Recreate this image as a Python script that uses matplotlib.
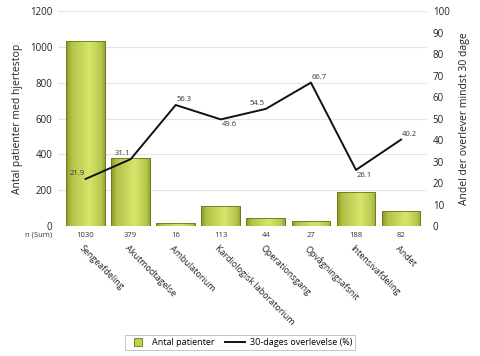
import matplotlib
matplotlib.use("Agg")
import matplotlib.pyplot as plt
import numpy as np
from matplotlib.lines import Line2D

categories = ["Sengeafdeling", "Akutmodtagelse", "Ambulatorium", "Kardiologisk laboratorium",
              "Operationsgang", "Opvågningsafsnit", "Intensivafdeling", "Andet"]
patients = [1030, 379, 16, 113, 44, 27, 188, 82]
survival = [21.9, 31.1, 56.3, 49.6, 54.5, 66.7, 26.1, 40.2]
# label offsets (points) for line value labels
label_dx = [-6, -6, 6, 6, -6, 6, 6, 6]
label_dy = [4, 4, 4, -4, 4, 4, -4, 4]

plt.rcParams['font.family'] = ['Open Sans', 'DejaVu Sans']

fig = plt.figure(figsize=(4.8, 3.56), dpi=100)
ax = fig.add_axes([0.121, 0.365, 0.769, 0.604])
x = np.arange(len(categories))

bars = ax.bar(x, patients, width=0.86, color='#c2d34a', edgecolor='#6b7518', linewidth=0.6, zorder=2)
# gradient fill
grad = np.linspace(0, 1, 256)
prof = np.interp(grad, [0, 0.15, 0.6, 0.9, 1.0], [0.0, 0.55, 1.0, 0.6, 0.2])
cmap = matplotlib.colors.LinearSegmentedColormap.from_list('g', ['#8a9a22', '#d6e66a'])
img = cmap(prof)[None, :, :]
for b in bars:
    x0, y0 = b.get_x(), b.get_y()
    w, h = b.get_width(), b.get_height()
    im = ax.imshow(img, extent=[x0, x0 + w, y0, y0 + h], aspect='auto', zorder=2.1, interpolation='bilinear')
    im.set_clip_path(b)
    ax.bar(x0 + w / 2, h, width=w, fill=False, edgecolor='#6b7518', linewidth=0.6, zorder=2.2)

ax.set_xlim(-0.61, 7.58)
ax.set_ylim(0, 1200)
ax.set_yticks(range(0, 1201, 200))
ax.yaxis.grid(True, color='#e4e4e4', linewidth=0.8, zorder=0)
ax.set_axisbelow(True)
for s in ax.spines.values():
    s.set_visible(False)
ax.tick_params(axis='y', length=0, labelsize=7, colors='#222222', pad=4)
ax.set_xticks([])
ax.set_ylabel("Antal patienter med hjertestop", fontsize=7.5, color='#222222', labelpad=5)

ax2 = ax.twinx()
ax2.set_ylim(0, 100)
ax2.set_yticks(range(0, 101, 10))
for s in ax2.spines.values():
    s.set_visible(False)
ax2.tick_params(axis='y', length=0, labelsize=7, colors='#222222', pad=4)
ax2.set_ylabel("Andel der overlever mindst 30 dage", fontsize=7.5, color='#222222', labelpad=7)
ax2.plot(x, survival, color='#111111', linewidth=1.4, zorder=3)
for i, v in enumerate(survival):
    ax2.annotate(f"{v}", (x[i], v), xytext=(label_dx[i], label_dy[i]), textcoords='offset points',
                 ha='center', va='center', fontsize=5.5, color='#333333')

# n (Sum) row
ax.annotate("n (Sum)", (-0.61, 0), xycoords=('data', 'axes fraction'), xytext=(-4, -6.5),
            textcoords='offset points', ha='right', va='center', fontsize=5.5, color='#333333')
for i, n in enumerate(patients):
    ax.annotate(str(n), (x[i], 0), xycoords=('data', 'axes fraction'), xytext=(0, -6.5),
                textcoords='offset points', ha='center', va='center', fontsize=5.5, color='#333333')
    ax.annotate(categories[i], (x[i], 0), xycoords=('data', 'axes fraction'), xytext=(-1, -13),
                textcoords='offset points', ha='left', va='top', rotation=-45,
                rotation_mode='anchor', fontsize=6.5, color='#222222')

handles = [Line2D([0], [0], marker='s', linestyle='none', markersize=5.5,
                  markerfacecolor='#c2d34a', markeredgecolor='#6b7518', markeredgewidth=0.6,
                  label='Antal patienter'),
           Line2D([0], [0], color='#111111', linewidth=1.4, label='30-dages overlevelse (%)')]
leg = fig.legend(handles=handles, loc='lower center', bbox_to_anchor=(0.5, 0.005), ncol=2,
                 fontsize=6.5, frameon=True, fancybox=False, edgecolor='#aaaaaa',
                 handlelength=2.2, handleheight=0.7, borderpad=0.3, columnspacing=1.2, handletextpad=0.5)
leg.get_frame().set_linewidth(0.6)

fig.savefig("out.png", dpi=100)
